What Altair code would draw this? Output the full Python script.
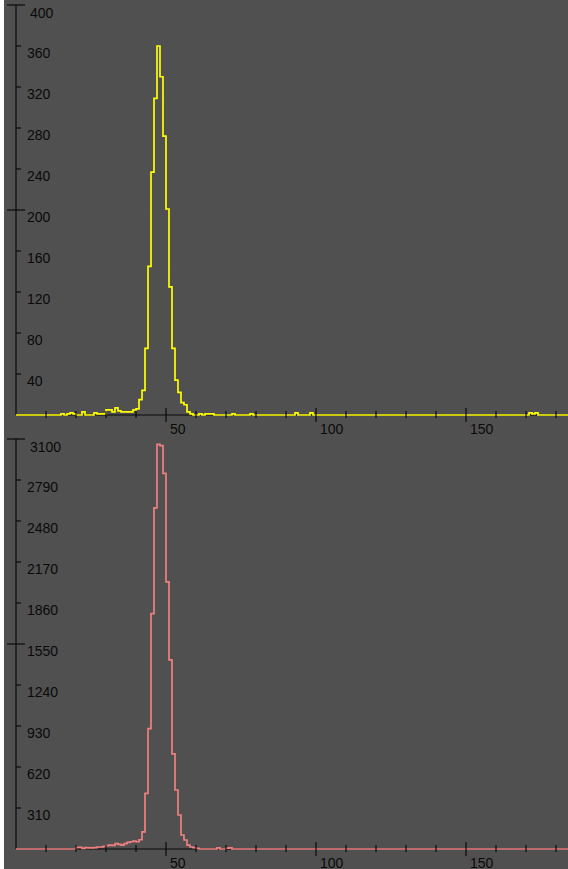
import altair as alt
import pandas as pd

# ---------------- data ----------------
X_MIN, X_MAX = -4, 184
NBINS = 184

yellow_bins = [15, 17, 18, 19, 22, 26, 27, 28, 29, 30, 31, 32, 33, 34, 35, 36, 37, 38, 39, 40,
               41, 42, 43, 44, 45, 46, 47, 48, 49, 50, 51, 52, 53, 54, 55, 56, 57, 58,
               61, 63, 64, 65, 72, 78, 93, 98, 171, 172, 173]
yellow_counts = [1, 1, 2, 1, 3, 2, 1, 1, 1, 5, 5, 3, 7, 4, 3, 3, 3, 3, 5, 6,
                 15, 24, 65, 145, 237, 309, 360, 330, 272, 201, 125, 65, 34, 22, 12, 10, 3, 1,
                 1, 1, 1, 1, 1, 1, 2, 2, 2, 1, 2]

pink_bins = [20, 21, 22, 23, 24, 25, 26, 27, 28, 29, 30, 31, 32, 33, 34, 35, 36, 37, 38, 39,
             40, 41, 42, 43, 44, 45, 46, 47, 48, 49, 50, 51, 52, 53, 54, 55, 56, 57, 58, 59,
             60, 67, 70, 71]
pink_counts = [12, 12, 5, 10, 8, 8, 10, 15, 15, 20, 25, 30, 28, 40, 35, 30, 40, 50, 55, 60,
               55, 70, 130, 420, 910, 1780, 2580, 3060, 3050, 2840, 2020, 1430, 720, 446, 257, 106, 68, 30, 15, 10,
               5, 8, 6, 8]

top_minor_y = [40, 80, 120, 160, 240, 280, 320, 360]
top_major_y = [200, 400]
top_labels = [40, 80, 120, 160, 200, 240, 280, 320, 360]
top_top_label = [400]

bot_minor_y = [310, 620, 930, 1240, 1860, 2170, 2480, 2790]
bot_major_y = [1550, 3100]
bot_labels = [310, 620, 930, 1240, 1550, 1860, 2170, 2480, 2790]
bot_top_label = [3100]

x_minor = [10, 20, 30, 40, 60, 70, 80, 90, 110, 120, 130, 140, 160, 170, 180]
x_major = [50, 100, 150]
x_labels = [50, 100, 150]

# y-domains of the two stacked panels, expressed over the whole chart height
TOP_DOMAIN = [-442.93, 404.88]
BOT_DOMAIN = [-151.22, 6419.3]

BG = "#505050"
INK = "#0a0a0a"
FONT = "Liberation Sans"


def full_series(bins, counts):
    lookup = dict(zip(bins, counts))
    xs = list(range(0, NBINS + 1))
    ys = [lookup.get(b, 0) for b in range(NBINS)] + [lookup.get(NBINS - 1, 0)]
    return pd.DataFrame({"x": xs, "count": ys})


def panel(df, color, y_dom, y_top, minor_y, major_y, labels, top_label):
    xs = alt.Scale(domain=[X_MIN, X_MAX], nice=False, zero=False)
    ys = alt.Scale(domain=y_dom, nice=False, zero=False)

    def X(f):
        return alt.X(f, type="quantitative", scale=xs, axis=None)

    def Y(f):
        return alt.Y(f, type="quantitative", scale=ys, axis=None)

    xaxis_df = pd.DataFrame({"a": [0], "b": [X_MAX], "z": [0]})
    xaxis = alt.Chart(xaxis_df).mark_rule(color=INK, strokeWidth=1).encode(
        x=X("a"), x2="b", y=Y("z"))

    yaxis_df = pd.DataFrame({"z": [0], "a": [0], "b": [y_top]})
    yaxis = alt.Chart(yaxis_df).mark_rule(color=INK, strokeWidth=1.2).encode(
        x=X("z"), y=Y("a"), y2="b")

    line = alt.Chart(df).mark_line(interpolate="step-after", color=color, strokeWidth=1.7).encode(
        x=X("x"), y=Y("count"))

    ymin_df = pd.DataFrame({"v": minor_y, "z": [0] * len(minor_y)})
    ymin = alt.Chart(ymin_df).mark_rule(color=INK, strokeWidth=1.2, x2Offset=5).encode(
        y=Y("v"), x=X("z"), x2="z")

    ymaj_df = pd.DataFrame({"v": major_y, "z": [0] * len(major_y)})
    ymaj = alt.Chart(ymaj_df).mark_rule(color=INK, strokeWidth=1.2, xOffset=-9, x2Offset=9).encode(
        y=Y("v"), x=X("z"), x2="z")

    ylab_df = pd.DataFrame({"v": labels, "z": [0] * len(labels), "t": [str(v) for v in labels]})
    ylab = alt.Chart(ylab_df).mark_text(align="left", baseline="middle", dx=11, dy=8,
                                        fontSize=14, font=FONT, color=INK, clip=True).encode(
        y=Y("v"), x=X("z"), text="t:N")

    ytop_df = pd.DataFrame({"v": top_label, "z": [0], "t": [str(v) for v in top_label]})
    ytop = alt.Chart(ytop_df).mark_text(align="left", baseline="middle", dx=14, dy=9,
                                        fontSize=14, font=FONT, color=INK, clip=True).encode(
        y=Y("v"), x=X("z"), text="t:N")

    xmin_df = pd.DataFrame({"v": x_minor, "z": [0] * len(x_minor)})
    xmin = alt.Chart(xmin_df).mark_rule(color=INK, strokeWidth=1.2, yOffset=-4, y2Offset=3).encode(
        x=X("v"), y=Y("z"), y2="z")

    xmaj_df = pd.DataFrame({"v": x_major, "z": [0] * len(x_major)})
    xmaj = alt.Chart(xmaj_df).mark_rule(color=INK, strokeWidth=1.2, yOffset=-7, y2Offset=7).encode(
        x=X("v"), y=Y("z"), y2="z")

    xlab_df = pd.DataFrame({"v": x_labels, "z": [0] * len(x_labels), "t": [str(v) for v in x_labels]})
    xlab = alt.Chart(xlab_df).mark_text(align="left", baseline="middle", dx=4, dy=15,
                                        fontSize=14, font=FONT, color=INK, clip=True).encode(
        x=X("v"), y=Y("z"), text="t:N")

    return alt.layer(xaxis, yaxis, line, ymin, ymaj, xmin, xmaj, ylab, ytop, xlab)


yellow_df = full_series(yellow_bins, yellow_counts)
pink_df = full_series(pink_bins, pink_counts)

top = panel(yellow_df, "#ffff00", TOP_DOMAIN, 400, top_minor_y, top_major_y,
            top_labels, top_top_label)
bottom = panel(pink_df, "#f08080", BOT_DOMAIN, 3100, bot_minor_y, bot_major_y,
               bot_labels, bot_top_label)

chart = alt.layer(top, bottom).resolve_scale(y="independent").properties(
    width=564,
    height=869,
    padding={"left": 4, "top": 0, "right": 0, "bottom": 0},
    autosize=alt.AutoSizeParams(type="none"),
    background="white",
).configure_view(fill=BG, strokeWidth=0)

chart.save("out.html", embed_options={"renderer": "svg", "actions": False})
